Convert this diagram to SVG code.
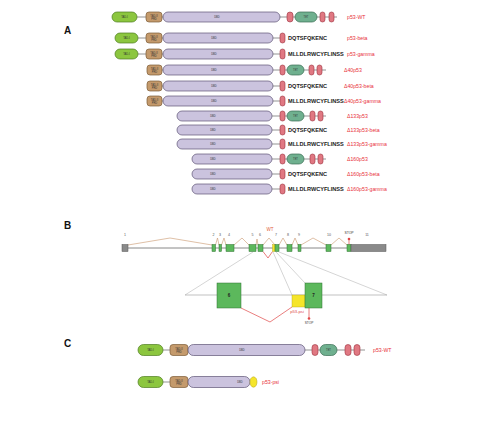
<svg xmlns="http://www.w3.org/2000/svg" width="488" height="424" viewBox="0 0 488 424">
<style>
.t1{fill:#8cc63f;stroke:#4d7c1f;stroke-width:0.7}
.t2{fill:#c49a6c;stroke:#7d5b36;stroke-width:0.7}
.db{fill:#cbc3de;stroke:#5e5575;stroke-width:0.7}
.te{fill:#6fb08f;stroke:#3b6e55;stroke-width:0.7}
.nl{fill:#e07882;stroke:#9c2f3d;stroke-width:0.6}
.ln{stroke:#666;stroke-width:0.7;fill:none}
.seq{font-family:"Liberation Sans",Arial,sans-serif;font-weight:bold;font-size:5.6px;fill:#222}
.lab{font-family:"Liberation Sans",Arial,sans-serif;font-size:5.2px;fill:#e8303a}
.tn{font-family:"Liberation Sans",Arial,sans-serif;font-size:2.6px;fill:#333;text-anchor:middle}
.pan{font-family:"Liberation Sans",Arial,sans-serif;font-weight:bold;font-size:10px;fill:#111}
.ex{fill:#5cb85c;stroke:#2e7030;stroke-width:0.5}
.gx{fill:#8a8a8a;stroke:#555;stroke-width:0.5}
.sp{stroke:#c9956b;stroke-width:0.6;fill:none}
.rd{stroke:#e04848;stroke-width:0.7;fill:none}
.zl{stroke:#aaa;stroke-width:0.5;fill:none}
.en{font-family:"Liberation Sans",Arial,sans-serif;font-size:3.6px;fill:#555;text-anchor:middle}
</style>
<rect width="488" height="424" fill="#fff"/>
<text class="pan" x="64" y="34">A</text>
<text class="pan" x="64" y="229">B</text>
<text class="pan" x="64" y="347">C</text>

<!-- Panel A -->
<g id="p53-WT" transform="translate(0,17)">
<line class="ln" x1="137" y1="0" x2="337" y2="0"/>
<rect class="t1" x="112" y="-5" width="25" height="10" rx="5"/><text class="tn" x="124.5" y="1">TAD-I</text>
<rect class="t2" x="146" y="-5" width="16" height="10" rx="3"/><text class="tn" x="154" y="-0.5">TAD-II</text><text class="tn" x="154" y="2.5">PRD</text>
<rect class="db" x="163" y="-5" width="117" height="10" rx="5"/><text class="tn" x="217" y="1">DBD</text>
<rect class="nl" x="287" y="-5" width="6" height="10" rx="3"/>
<rect class="te" x="295" y="-5" width="22" height="10" rx="5"/><text class="tn" x="306" y="1">TET</text>
<rect class="nl" x="320" y="-5" width="5" height="10" rx="2.5"/>
<rect class="nl" x="329" y="-5" width="5" height="10" rx="2.5"/>
<text class="lab" x="347" y="2">p53-WT</text>
</g>
<g id="p53-beta" transform="translate(0,38)">
<line class="ln" x1="138" y1="0" x2="280" y2="0"/>
<rect class="t1" x="115" y="-5" width="23" height="10" rx="5"/><text class="tn" x="126.5" y="1">TAD-I</text>
<rect class="t2" x="146" y="-5" width="16" height="10" rx="3"/><text class="tn" x="154" y="-0.5">TAD-II</text><text class="tn" x="154" y="2.5">PRD</text>
<rect class="db" x="163" y="-5" width="110" height="10" rx="5"/><text class="tn" x="214" y="1">DBD</text>
<rect class="nl" x="280" y="-5" width="5" height="10" rx="2.5"/>
<text class="seq" x="288" y="2">DQTSFQKENC</text>
<text class="lab" x="347" y="2">p53-beta</text>
</g>
<g id="p53-gamma" transform="translate(0,54)">
<line class="ln" x1="138" y1="0" x2="280" y2="0"/>
<rect class="t1" x="115" y="-5" width="23" height="10" rx="5"/><text class="tn" x="126.5" y="1">TAD-I</text>
<rect class="t2" x="146" y="-5" width="16" height="10" rx="3"/><text class="tn" x="154" y="-0.5">TAD-II</text><text class="tn" x="154" y="2.5">PRD</text>
<rect class="db" x="163" y="-5" width="110" height="10" rx="5"/><text class="tn" x="214" y="1">DBD</text>
<rect class="nl" x="280" y="-5" width="5" height="10" rx="2.5"/>
<text class="seq" x="288" y="2">MLLDLRWCYFLINSS</text>
<text class="lab" x="347" y="2">p53-gamma</text>
</g>
<g id="d40p53" transform="translate(0,70)">
<line class="ln" x1="160" y1="0" x2="326" y2="0"/>
<rect class="t2" x="147" y="-5" width="15" height="10" rx="3"/><text class="tn" x="154.5" y="-0.5">TAD-II</text><text class="tn" x="154.5" y="2.5">PRD</text>
<rect class="db" x="163" y="-5" width="110" height="10" rx="5"/><text class="tn" x="214" y="1">DBD</text>
<rect class="nl" x="280" y="-5" width="5" height="10" rx="2.5"/>
<rect class="te" x="287" y="-5" width="17" height="10" rx="5"/><text class="tn" x="295.5" y="1">TET</text>
<rect class="nl" x="309" y="-5" width="5" height="10" rx="2.5"/>
<rect class="nl" x="317" y="-5" width="5" height="10" rx="2.5"/>
<text class="lab" x="344" y="2">Δ40p53</text>
</g>
<g id="d40p53-beta" transform="translate(0,86)">
<line class="ln" x1="160" y1="0" x2="280" y2="0"/>
<rect class="t2" x="147" y="-5" width="15" height="10" rx="3"/><text class="tn" x="154.5" y="-0.5">TAD-II</text><text class="tn" x="154.5" y="2.5">PRD</text>
<rect class="db" x="163" y="-5" width="110" height="10" rx="5"/><text class="tn" x="214" y="1">DBD</text>
<rect class="nl" x="280" y="-5" width="5" height="10" rx="2.5"/>
<text class="seq" x="288" y="2">DQTSFQKENC</text>
<text class="lab" x="344" y="2">Δ40p53-beta</text>
</g>
<g id="d40p53-gamma" transform="translate(0,101)">
<line class="ln" x1="160" y1="0" x2="280" y2="0"/>
<rect class="t2" x="147" y="-5" width="15" height="10" rx="3"/><text class="tn" x="154.5" y="-0.5">TAD-II</text><text class="tn" x="154.5" y="2.5">PRD</text>
<rect class="db" x="163" y="-5" width="110" height="10" rx="5"/><text class="tn" x="214" y="1">DBD</text>
<rect class="nl" x="280" y="-5" width="5" height="10" rx="2.5"/>
<text class="seq" x="288" y="2">MLLDLRWCYFLINSS</text>
<text class="lab" x="344" y="2">Δ40p53-gamma</text>
</g>
<g id="d133p53" transform="translate(0,116)">
<line class="ln" x1="272" y1="0" x2="326" y2="0"/>
<rect class="db" x="177" y="-5" width="95" height="10" rx="5"/><text class="tn" x="213" y="1">DBD</text>
<rect class="nl" x="280" y="-5" width="5" height="10" rx="2.5"/>
<rect class="te" x="287" y="-5" width="17" height="10" rx="5"/><text class="tn" x="295.5" y="1">TET</text>
<rect class="nl" x="310" y="-5" width="5" height="10" rx="2.5"/>
<rect class="nl" x="318" y="-5" width="5" height="10" rx="2.5"/>
<text class="lab" x="347" y="2">Δ133p53</text>
</g>
<g id="d133p53-beta" transform="translate(0,130)">
<line class="ln" x1="272" y1="0" x2="280" y2="0"/>
<rect class="db" x="177" y="-5" width="95" height="10" rx="5"/><text class="tn" x="213" y="1">DBD</text>
<rect class="nl" x="280" y="-5" width="5" height="10" rx="2.5"/>
<text class="seq" x="288" y="2">DQTSFQKENC</text>
<text class="lab" x="347" y="2">Δ133p53-beta</text>
</g>
<g id="d133p53-gamma" transform="translate(0,144)">
<line class="ln" x1="272" y1="0" x2="280" y2="0"/>
<rect class="db" x="177" y="-5" width="95" height="10" rx="5"/><text class="tn" x="213" y="1">DBD</text>
<rect class="nl" x="280" y="-5" width="5" height="10" rx="2.5"/>
<text class="seq" x="288" y="2">MLLDLRWCYFLINSS</text>
<text class="lab" x="347" y="2">Δ133p53-gamma</text>
</g>
<g id="d160p53" transform="translate(0,159)">
<line class="ln" x1="272" y1="0" x2="326" y2="0"/>
<rect class="db" x="192" y="-5" width="80" height="10" rx="5"/><text class="tn" x="213" y="1">DBD</text>
<rect class="nl" x="280" y="-5" width="5" height="10" rx="2.5"/>
<rect class="te" x="287" y="-5" width="17" height="10" rx="5"/><text class="tn" x="295.5" y="1">TET</text>
<rect class="nl" x="310" y="-5" width="5" height="10" rx="2.5"/>
<rect class="nl" x="318" y="-5" width="5" height="10" rx="2.5"/>
<text class="lab" x="347" y="2">Δ160p53</text>
</g>
<g id="d160p53-beta" transform="translate(0,174)">
<line class="ln" x1="272" y1="0" x2="280" y2="0"/>
<rect class="db" x="192" y="-5" width="80" height="10" rx="5"/><text class="tn" x="213" y="1">DBD</text>
<rect class="nl" x="280" y="-5" width="5" height="10" rx="2.5"/>
<text class="seq" x="288" y="2">DQTSFQKENC</text>
<text class="lab" x="347" y="2">Δ160p53-beta</text>
</g>
<g id="d160p53-gamma" transform="translate(0,189)">
<line class="ln" x1="272" y1="0" x2="280" y2="0"/>
<rect class="db" x="192" y="-5" width="80" height="10" rx="5"/><text class="tn" x="213" y="1">DBD</text>
<rect class="nl" x="280" y="-5" width="5" height="10" rx="2.5"/>
<text class="seq" x="288" y="2">MLLDLRWCYFLINSS</text>
<text class="lab" x="347" y="2">Δ160p53-gamma</text>
</g>

<!-- Panel B -->
<g id="connectors">
<line x1="128" y1="248" x2="351" y2="248" stroke="#888" stroke-width="1"/>
<polyline class="sp" points="128,245 170,238 212,245"/>
<polyline class="sp" points="215.5,245 217.5,238 219,245"/>
<polyline class="sp" points="221.5,245 224,238 226,245"/>
<polyline class="sp" points="234,245 242,238 249,245"/>
<polyline class="sp" points="256,245 257,239 258,245"/>
<polyline class="sp" points="263,245 269,238 275,245"/>
<polyline class="sp" points="279,245 283,238 287,245"/>
<polyline class="sp" points="292,245 295,238 298,245"/>
<polyline class="sp" points="301,245 313,238 326,245"/>
<polyline class="sp" points="331,245 339,238 347,245"/>
<polyline class="rd" points="263,251.5 268,258 272.5,251.5"/>
<line class="zl" x1="253" y1="252" x2="185" y2="295"/>
<line class="zl" x1="273" y1="252" x2="292" y2="295"/>
<line class="zl" x1="276" y1="252" x2="305" y2="283"/>
<line class="zl" x1="279" y1="252" x2="387" y2="295"/>
<line x1="185" y1="295" x2="387" y2="295" stroke="#999" stroke-width="0.6"/>
<polyline class="rd" points="241,308 270,322 292,307"/>
<line class="rd" x1="309" y1="308" x2="309" y2="318"/>
<line class="rd" x1="349" y1="239" x2="349" y2="245"/>
</g>
<g id="exons">
<rect class="gx" x="122" y="244.5" width="6" height="7"/>
<rect class="ex" x="212" y="244.5" width="3.5" height="7"/>
<rect class="ex" x="219" y="244.5" width="2.5" height="7"/>
<rect class="ex" x="226" y="244.5" width="8" height="7"/>
<rect class="ex" x="249" y="244.5" width="7" height="7"/>
<rect class="ex" x="258" y="244.5" width="5" height="7"/>
<rect x="272.5" y="244.5" width="2.5" height="7" fill="#f5e52a" stroke="#b0a020" stroke-width="0.4"/>
<rect class="ex" x="275" y="244.5" width="4" height="7"/>
<rect class="ex" x="287" y="244.5" width="5" height="7"/>
<rect class="ex" x="298" y="244.5" width="3" height="7"/>
<rect class="ex" x="326" y="244.5" width="5" height="7"/>
<rect class="ex" x="347" y="244.5" width="4" height="7"/>
<rect class="gx" x="351" y="244.5" width="35" height="7"/>
<circle cx="349" cy="239" r="1.3" fill="#e04848"/>
<text class="en" x="125" y="236">1</text>
<text class="en" x="213.5" y="236">2</text>
<text class="en" x="220" y="236">3</text>
<text class="en" x="229" y="236">4</text>
<text class="en" x="252.5" y="236">5</text>
<text class="en" x="260" y="236">6</text>
<text class="en" x="276" y="236">7</text>
<text class="en" x="288" y="236">8</text>
<text class="en" x="299" y="236">9</text>
<text class="en" x="329" y="236">10</text>
<text class="en" x="367" y="236">11</text>
<text x="349" y="234" font-family="Liberation Sans, Arial, sans-serif" font-size="3.4" fill="#333" text-anchor="middle">STOP</text>
<text x="270" y="231" font-family="Liberation Sans, Arial, sans-serif" font-size="4.5" fill="#e0603a" text-anchor="middle">WT</text>
</g>
<g id="zoom-exons">
<rect class="ex" x="217" y="283" width="24" height="25"/>
<text x="229" y="297" font-family="Liberation Sans, Arial, sans-serif" font-size="4.5" font-weight="bold" fill="#222" text-anchor="middle">6</text>
<rect x="292" y="295" width="13" height="12" fill="#f5e52a" stroke="#b0a020" stroke-width="0.4"/>
<rect class="ex" x="305" y="283" width="17" height="25"/>
<text x="313.5" y="297" font-family="Liberation Sans, Arial, sans-serif" font-size="4.5" font-weight="bold" fill="#222" text-anchor="middle">7</text>
<text x="297" y="313" font-family="Liberation Sans, Arial, sans-serif" font-size="4.2" fill="#e04848" text-anchor="middle">p53-psi</text>
<circle cx="309" cy="318.5" r="1.3" fill="#e04848"/>
<text x="309" y="323.5" font-family="Liberation Sans, Arial, sans-serif" font-size="3.2" fill="#333" text-anchor="middle">STOP</text>
</g>

<!-- Panel C -->
<g id="C-p53-WT" transform="translate(0,350)">
<line class="ln" x1="163" y1="0" x2="365" y2="0"/>
<rect class="t1" x="138" y="-5.5" width="25" height="11" rx="5.5"/><text class="tn" x="150.5" y="1">TAD-I</text>
<rect class="t2" x="170" y="-5.5" width="18" height="11" rx="3"/><text class="tn" x="179" y="-0.5">TAD-II</text><text class="tn" x="179" y="2.5">PRD</text>
<rect class="db" x="188" y="-5.5" width="117" height="11" rx="5.5"/><text class="tn" x="242" y="1">DBD</text>
<rect class="nl" x="312" y="-5.5" width="6" height="11" rx="3"/>
<rect class="te" x="320" y="-5.5" width="17" height="11" rx="5.5"/><text class="tn" x="328.5" y="1">TET</text>
<rect class="nl" x="345" y="-5.5" width="6" height="11" rx="3"/>
<rect class="nl" x="354" y="-5.5" width="6" height="11" rx="3"/>
<text class="lab" x="373" y="2">p53-WT</text>
</g>
<g id="C-p53-psi" transform="translate(0,382)">
<line class="ln" x1="163" y1="0" x2="170" y2="0"/>
<rect class="t1" x="138" y="-5.5" width="25" height="11" rx="5.5"/><text class="tn" x="150.5" y="1">TAD-I</text>
<rect class="t2" x="170" y="-5.5" width="18" height="11" rx="3"/><text class="tn" x="179" y="-0.5">TAD-II</text><text class="tn" x="179" y="2.5">PRD</text>
<rect class="db" x="188" y="-5.5" width="62" height="11" rx="5.5"/><text class="tn" x="240" y="1">DBD</text>
<ellipse cx="253.5" cy="0" rx="3.5" ry="5.2" fill="#f5e52a" stroke="#b0a020" stroke-width="0.5"/>
<text class="lab" x="262" y="2">p53-psi</text>
</g>
</svg>
